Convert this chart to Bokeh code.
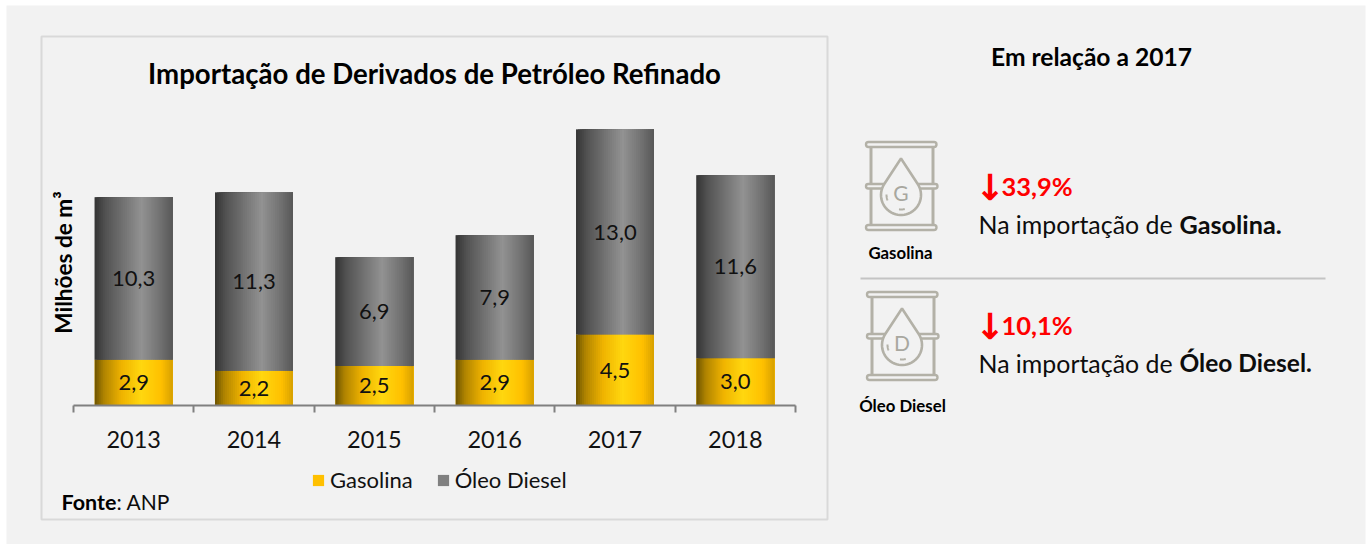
import numpy as np
from bokeh.embed import file_html
from bokeh.resources import INLINE
from bokeh.plotting import figure
from bokeh.models import (Label, BoxAnnotation, PolyAnnotation, FixedTicker, Range1d,
                          ColumnDataSource, Legend, LegendItem)
from bokeh.core.properties import value

years = ["2013", "2014", "2015", "2016", "2017", "2018"]
gasolina = [2.9, 2.2, 2.5, 2.9, 4.5, 3.0]
diesel = [10.3, 11.3, 6.9, 7.9, 13.0, 11.6]
gasolina_labels = ["2,9", "2,2", "2,5", "2,9", "4,5", "3,0"]
diesel_labels = ["10,3", "11,3", "6,9", "7,9", "13,0", "11,6"]

FONT = "Lato"
BG = "#f2f2f2"
ICON = "#b3b1a7"
W, H = 1371, 544
AX_L, AX_R, AX_Y = 73, 795, 405   # axis position in window pixels
PX_X = (AX_R - AX_L) / 6
PX_Y = 15.77
BAR = 0.648

p = figure(width=W, height=H, output_backend="svg", toolbar_location=None,
           x_range=Range1d(-AX_L / PX_X, (W - AX_L) / PX_X),
           y_range=Range1d(-(H - AX_Y) / PX_Y, AX_Y / PX_Y),
           min_border_left=0, min_border_right=0, min_border_top=0, min_border_bottom=0,
           background_fill_color="#ffffff", border_fill_color="#ffffff", outline_line_color=None)
p.grid.visible = False
p.yaxis.visible = False

ax = p.xaxis[0]
ax.fixed_location = 0
ax.bounds = (0, 6)
ax.ticker = FixedTicker(ticks=[i + 0.5 for i in range(6)], minor_ticks=list(range(7)))
ax.major_label_overrides = {i + 0.5: y for i, y in enumerate(years)}
ax.major_tick_line_color = None
ax.minor_tick_line_color = "#808080"
ax.minor_tick_line_width = 2
ax.minor_tick_in = 0
ax.minor_tick_out = 7
ax.axis_line_color = "#808080"
ax.axis_line_width = 2
ax.major_label_text_font = FONT
ax.major_label_text_font_size = "23.5px"
ax.major_label_text_color = "#111111"
ax.major_label_standoff = 18


def sx(v):
    return v


def sy(v):
    return H - v


def txt(X, Y, s, size, bold=False, color="#0d0d0d", align="left", angle=0, font=FONT):
    p.add_layout(Label(x=sx(X), y=sy(Y), x_units="screen", y_units="screen", text=s,
                       text_font=font, text_font_size=f"{size}px", text_color=color,
                       text_font_style="bold" if bold else "normal", text_align=align,
                       text_baseline="middle", angle=angle, angle_units="rad"))


def box(l, t, r, b, fill=None, line=None, lw=0, radius=0, level="underlay"):
    p.add_layout(BoxAnnotation(left=sx(l), right=sx(r), top=sy(t), bottom=sy(b),
                               left_units="screen", right_units="screen",
                               top_units="screen", bottom_units="screen",
                               fill_color=fill, fill_alpha=1 if fill else 0,
                               line_color=line, line_width=lw, line_alpha=1 if line else 0,
                               border_radius=radius, level=level))


def poly(X, Y, fill=None, line=ICON, lw=2.6):
    p.add_layout(PolyAnnotation(xs=[sx(a) for a in X], ys=[sy(a) for a in Y],
                                xs_units="screen", ys_units="screen",
                                fill_color=fill, fill_alpha=1 if fill else 0,
                                line_color=line, line_alpha=1, line_width=lw, level="annotation"))


def arc(cx, cy, r, a0, a1, lw=2):
    t = np.radians(np.linspace(a0, a1, 8))
    X = list(cx + r * np.cos(t)) + list(cx + r * np.cos(t))[::-1]
    Y = list(cy + r * np.sin(t)) + list(cy + r * np.sin(t))[::-1]
    poly(X, Y, lw=lw)


def barrel(dx, dy, letter):
    box(869 + dx, 146 + dy, 872 + dx, 224 + dy, fill=ICON, level="annotation")
    box(931 + dx, 146 + dy, 934 + dx, 224 + dy, fill=ICON, level="annotation")
    box(865.5 + dx, 141.5 + dy, 936 + dx, 146.5 + dy, fill=BG, line=ICON, lw=2.4, radius=3, level="annotation")
    box(865.5 + dx, 224.5 + dy, 936 + dx, 229.5 + dy, fill=BG, line=ICON, lw=2.4, radius=3, level="annotation")
    box(865.5 + dx, 183.5 + dy, 937 + dx, 188 + dy, fill=BG, line=ICON, lw=2.4, radius=3, level="annotation")
    cx, cy, r = 900.5 + dx, 194.5 + dy, 20
    tip = cy - 36.5
    a = np.degrees(np.arcsin(r / (cy - tip)))
    t = np.radians(np.linspace(-a, 180 + a, 40))
    X = [cx] + list(cx + r * np.cos(t)) + [cx]
    Y = [tip] + list(cy + r * np.sin(t)) + [tip]
    poly(X, Y, fill=BG)
    arc(cx, cy, 14.5, 158, 182)
    arc(cx, cy, 14.5, 75, 98)
    txt(cx, 191.5 + dy, letter, 21, color="#a8a79f", align="center")


# page panel, chart frame and separator
box(6, 5, 1365, 544, fill=BG)
box(41, 36, 827, 519, line="#d9d9d9", lw=2)
box(860, 277, 1325, 279, fill="#c4c4c4")

x = np.arange(6) + 0.5
g = np.array(gasolina)
d = np.array(diesel)
totals = g + d

r_g = p.vbar(x=x, width=BAR, bottom=0, top=g, fill_color="#ffc000", line_color=None)
r_d = p.vbar(x=x, width=BAR, bottom=g, top=totals, fill_color="#808080", line_color=None)


def ramp(stops, t):
    ts = [s[0] for s in stops]
    return "#%02x%02x%02x" % tuple(
        int(round(np.interp(t, ts, [s[1][c] for s in stops]))) for c in range(3))


GOLD = [(0, (110, 84, 0)), (0.12, (176, 132, 0)), (0.35, (240, 180, 0)), (0.6, (255, 215, 15)),
        (0.85, (255, 192, 0)), (1, (214, 160, 0))]
GRAY = [(0, (52, 52, 52)), (0.15, (84, 84, 84)), (0.6, (146, 146, 146)),
        (0.85, (112, 112, 112)), (1, (88, 88, 88))]
N = 39
sw = BAR / N
for k in range(N):
    t = (k + 0.5) / N
    left = x - BAR / 2 + sw * k
    right = x + BAR / 2
    p.quad(left=left, right=right, bottom=0, top=g, fill_color=ramp(GOLD, t), line_color=None)
    p.quad(left=left, right=right, bottom=g, top=totals, fill_color=ramp(GRAY, t), line_color=None)

lab = ColumnDataSource(dict(
    x=list(x) + list(x),
    y=list(g / 2) + list(g + d / 2),
    t=gasolina_labels + diesel_labels))
p.text(x="x", y="y", text="t", source=lab, text_align="center", text_baseline="middle",
       text_font=value(FONT), text_font_size="22px", text_color="#111111")

leg = Legend(items=[LegendItem(label="Gasolina", renderers=[r_g]),
                    LegendItem(label="Óleo Diesel", renderers=[r_d])],
             orientation="horizontal", location=(311, H - 493),
             background_fill_alpha=0, border_line_color=None,
             label_text_font=FONT, label_text_font_size="22px", label_text_color="#111111",
             glyph_width=14, glyph_height=14, spacing=23, padding=0, margin=0, label_standoff=5)
p.add_layout(leg, "center")

txt(434, 73, "Importação de Derivados de Petróleo Refinado", 27.6, bold=True, color="#000000", align="center")
txt(63, 262, "Milhões de m³", 22.6, bold=True, color="#000000", align="center", angle=np.pi / 2)
txt(61, 501, "Fonte", 21.5, bold=True, color="#000000")
txt(116, 501, ": ANP", 21)
txt(1091, 55.5, "Em relação a 2017", 24.6, bold=True, color="#000000", align="center")

barrel(0, 0, "G")
barrel(1, 150, "D")
txt(900, 252, "Gasolina", 16.8, bold=True, color="#000000", align="center")
txt(902, 405, "Óleo Diesel", 16.8, bold=True, color="#000000", align="center")

txt(974.5, 187, "↓", 36, bold=True, color="#ff0000", font="DejaVu Sans")
txt(1001, 185.5, "33,9%", 25.5, bold=True, color="#ff0000")
txt(978, 223, "Na importação de", 24.9)
txt(1179, 223, "Gasolina.", 25.2, bold=True)
txt(974.5, 326, "↓", 36, bold=True, color="#ff0000", font="DejaVu Sans")
txt(1001, 324.5, "10,1%", 25.5, bold=True, color="#ff0000")
txt(978, 362, "Na importação de", 24.9)
txt(1179, 362, "Óleo Diesel.", 24.5, bold=True)

open("out.html", "w").write(file_html(p, INLINE))
